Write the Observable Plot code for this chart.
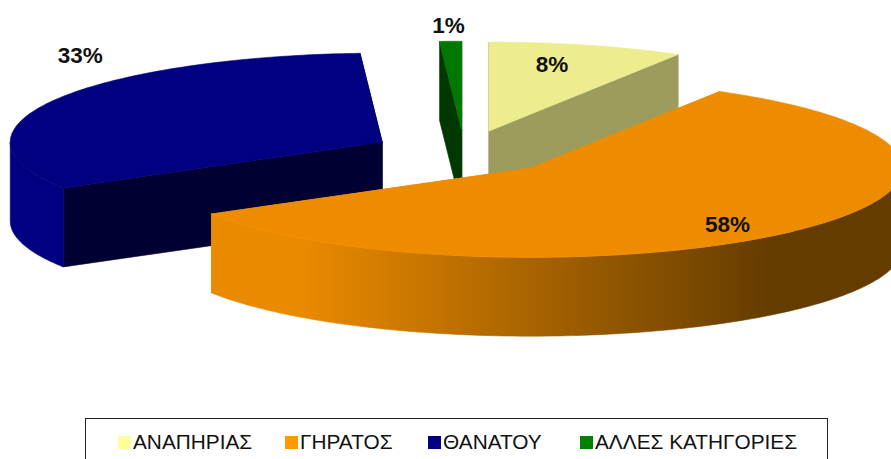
<!DOCTYPE html>
<html>
<head>
<meta charset="utf-8">
<script src="https://cdn.jsdelivr.net/npm/d3@7"></script>
<script src="https://cdn.jsdelivr.net/npm/@observablehq/plot@0.6"></script>
<style>
html,body{margin:0;padding:0;background:#fff;width:891px;height:459px;overflow:hidden}
#chart svg{display:block}
#legend{position:relative;box-sizing:border-box;margin-left:85px;width:743px;height:60px;border:1px solid #222;
  font-family:"Liberation Sans",Arial,sans-serif;font-size:20.8px;color:#111}
.item{position:absolute;top:12px;white-space:nowrap;line-height:22px;display:flex;align-items:center}
.sw{display:inline-block;width:13px;height:13px;margin-right:2px}
</style>
</head>
<body>
<div id="chart"></div>
<div id="legend"></div>
<script>
// Data
const categories = ["ΑΝΑΠΗΡΙΑΣ", "ΓΗΡΑΤΟΣ", "ΘΑΝΑΤΟΥ", "ΑΛΛΕΣ ΚΑΤΗΓΟΡΙΕΣ"];
const shares = [8.49, 57.91, 32.65, 0.95];

// Styles
const topColors = ["#eded8f", "#ee8c00", "#000080", "#007800"];
const cutColors = ["#9c9c5e", "#ee8c00", "#000033", "#003800"];
const wallColors = ["#9c9c5e", "url(#orangeWall)", "#000080", "#003800"];
const legendColors = ["#ffff99", "#ff9900", "#000080", "#008000"];
const legendLefts = [32, 199, 342, 494];

// Layout of the exploded tilted pie
const W = 891, H = 418;
const pie3d = {cx: 464, cy: 152, rx: 372, ry: 89, depth: 79, explode: 0.25};
const labelNudge = [[-35, 20], [-67, -6], [27, -45], [-2, -16]];

const arcs = d3.pie().sort(null).value(d => d)(shares);
const deg = Math.PI / 180;
const rim = (a, c, dz = 0) => ({x: c.x + pie3d.rx * Math.sin(a), y: c.y - pie3d.ry * Math.cos(a) + dz});
const arcPts = (a0, a1, c, dz = 0) => {
  const n = Math.max(2, Math.ceil(Math.abs(a1 - a0) / deg));
  return d3.range(n + 1).map(i => rim(a0 + (a1 - a0) * i / n, c, dz));
};

const slices = arcs.map((arc, i) => {
  const mid = (arc.startAngle + arc.endAngle) / 2;
  const c = {
    x: pie3d.cx + pie3d.explode * pie3d.rx * Math.sin(mid),
    y: pie3d.cy - pie3d.explode * pie3d.ry * Math.cos(mid)
  };
  return {i, arc, mid, c};
});

function faces(s) {
  const {arc, c, i} = s;
  const d = pie3d.depth;
  const cutFace = a => {
    const r = rim(a, c);
    return [c, r, {x: r.x, y: r.y + d}, {x: c.x, y: c.y + d}];
  };
  const out = [
    {pts: cutFace(arc.endAngle), fill: cutColors[i]},
    {pts: cutFace(arc.startAngle), fill: cutColors[i]}
  ];
  const w0 = Math.max(arc.startAngle, Math.PI / 2), w1 = Math.min(arc.endAngle, 3 * Math.PI / 2);
  if (w1 > w0) {
    out.push({pts: [...arcPts(w0, w1, c), ...arcPts(w1, w0, c, d)], fill: wallColors[i]});
  }
  out.push({pts: [c, ...arcPts(arc.startAngle, arc.endAngle, c)], fill: topColors[i]});
  return out;
}

// Painter's order: back slices first, the big front slice last
const order = [2, 3, 0, 1];
const faceMarks = order.flatMap(i => faces(slices[i]).map(f =>
  Plot.line([...f.pts, f.pts[0]], {x: "x", y: "y", fill: f.fill, stroke: f.fill, strokeWidth: 0.6, curve: "linear"})
));

// Faint highlight along the front rim of the large slice
const frontRim = Plot.line(
  arcPts(Math.PI * 0.75, slices[1].arc.endAngle, slices[1].c),
  {x: "x", y: "y", stroke: "#f59300", strokeWidth: 0.8, curve: "linear"}
);

const labels = slices.map(s => {
  const r = rim(s.mid, s.c);
  return {
    x: r.x + labelNudge[s.i][0],
    y: r.y + labelNudge[s.i][1],
    text: `${Math.round(shares[s.i])}%`
  };
});

const defsMark = () => {
  const defs = d3.create("svg:defs");
  const g = defs.append("linearGradient").attr("id", "orangeWall")
    .attr("gradientUnits", "userSpaceOnUse")
    .attr("x1", 300).attr("x2", 771).attr("y1", 0).attr("y2", 0);
  g.append("stop").attr("offset", 0).attr("stop-color", "#ea8a00");
  g.append("stop").attr("offset", 1).attr("stop-color", "#643c00");
  return defs.node();
};

const chart = Plot.plot({
  width: W,
  height: H,
  margin: 0,
  x: {domain: [0, W], range: [0, W], axis: null},
  y: {domain: [0, H], range: [0, H], axis: null},
  style: {background: "#fff"},
  marks: [
    defsMark,
    ...faceMarks,
    frontRim,
    Plot.text(labels, {
      x: "x", y: "y", text: "text",
      fontFamily: "Liberation Sans, Arial, sans-serif",
      fontWeight: "bold", fontSize: 22.5, fill: "#111"
    })
  ]
});
document.getElementById("chart").append(chart);

const legend = document.getElementById("legend");
categories.forEach((name, i) => {
  const item = document.createElement("div");
  item.className = "item";
  item.style.left = legendLefts[i] + "px";
  const sw = document.createElement("span");
  sw.className = "sw";
  sw.style.background = legendColors[i];
  item.append(sw, document.createTextNode(name));
  legend.append(item);
});
</script>
</body>
</html>
